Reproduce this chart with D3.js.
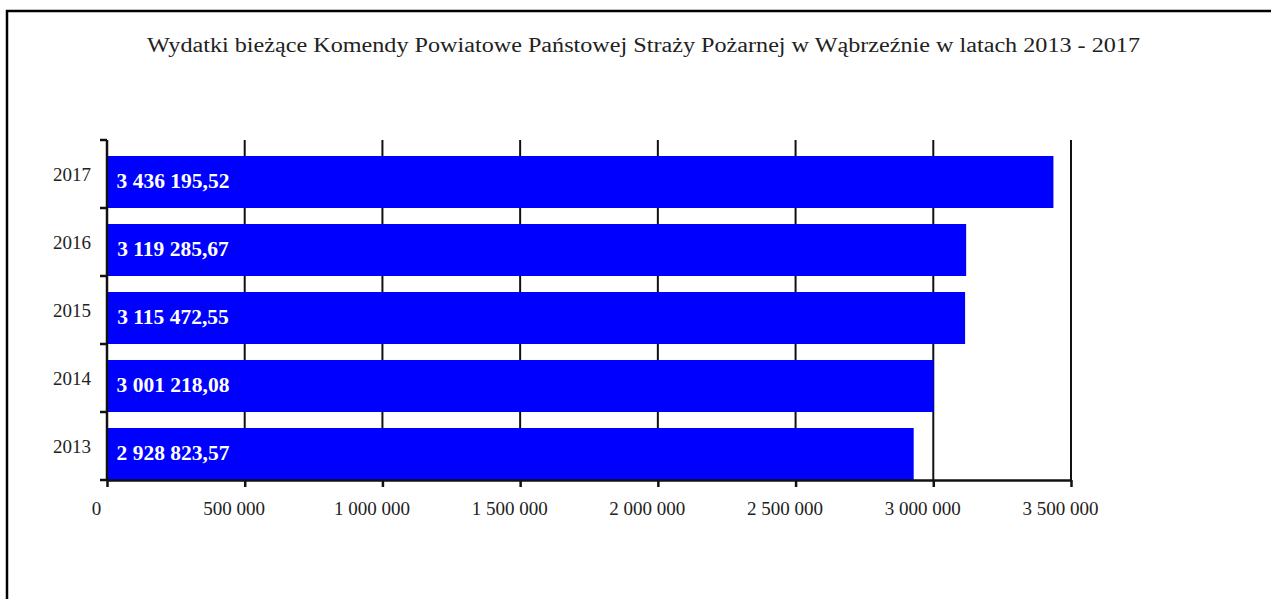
<!DOCTYPE html>
<html><head><meta charset="utf-8">
<script src="https://cdn.jsdelivr.net/npm/d3@7"></script>
<style>body{margin:0;background:#fff}svg{display:block}</style>
</head><body>
<svg id="c" width="1271" height="599"></svg>
<script>
const title = "Wydatki bieżące Komendy Powiatowe Państowej Straży Pożarnej w Wąbrzeźnie w latach 2013 - 2017";
const years = ["2017","2016","2015","2014","2013"];
const values = [3436195.52, 3119285.67, 3115472.55, 3001218.08, 2928823.57];
const valueLabels = ["3 436 195,52","3 119 285,67","3 115 472,55","3 001 218,08","2 928 823,57"];
const xTicks = [0,500000,1000000,1500000,2000000,2500000,3000000,3500000];
const xTickLabels = ["0","500 000","1 000 000","1 500 000","2 000 000","2 500 000","3 000 000","3 500 000"];

const svg = d3.select("#c");
const font = "'Liberation Serif','Times New Roman',serif";
svg.append("rect").attr("x",7).attr("y",11).attr("width",1300).attr("height",640)
  .attr("fill","#fff").attr("stroke","#000").attr("stroke-width",2.5);

svg.append("text").attr("x",643.5).attr("y",52).attr("text-anchor","middle")
  .attr("font-family",font).attr("font-size",20).attr("fill","#222")
  .attr("textLength",993).attr("lengthAdjust","spacingAndGlyphs").text(title);

const x = d3.scaleLinear().domain([0,3500000]).range([107,1071]);
const y = d3.scaleBand().domain(years).range([140,480]).paddingInner(16/68).paddingOuter(8/68).align(1);

// gridlines
svg.append("g").selectAll("line").data(xTicks.slice(1)).join("line")
  .attr("x1",d=>x(d)).attr("x2",d=>x(d)).attr("y1",140).attr("y2",480)
  .attr("stroke","#111").attr("stroke-width",2);

// bars
svg.append("g").selectAll("rect").data(values).join("rect")
  .attr("x",x(0)).attr("y",(d,i)=>y(years[i])).attr("width",d=>x(d)-x(0))
  .attr("height",y.bandwidth()).attr("fill","#0000ff");

// bottom axis
const xAxis = d3.axisBottom(x).tickValues(xTicks).tickFormat((d,i)=>xTickLabels[i]).tickSize(7).tickSizeOuter(0).tickPadding(18);
const gx = svg.append("g").attr("transform","translate(0,480)").call(xAxis);
gx.select(".domain").attr("stroke","#111").attr("stroke-width",2.5);
gx.selectAll(".tick line").attr("stroke","#111").attr("stroke-width",2.5);
gx.selectAll(".tick text").attr("font-family",font).attr("font-size",19).attr("fill","#222")
  .attr("dx",-11).attr("dy","0.55em");

// left axis
const bounds = [140].concat(years.map(c=>y(c)+y.bandwidth()));
svg.append("line").attr("x1",x(0)).attr("x2",x(0)).attr("y1",140).attr("y2",480)
  .attr("stroke","#111").attr("stroke-width",2.5);
svg.append("g").selectAll("line").data(bounds).join("line")
  .attr("x1",x(0)-7).attr("x2",x(0)).attr("y1",d=>d).attr("y2",d=>d)
  .attr("stroke","#111").attr("stroke-width",2.5);
svg.append("g").selectAll("text").data(years).join("text")
  .attr("x",91).attr("y",c=>y(c)+y.bandwidth()-y.step()/2).attr("dy","0.35em")
  .attr("text-anchor","end").attr("font-family",font).attr("font-size",19).attr("fill","#222").text(c=>c);

// value labels
svg.append("g").selectAll("text").data(valueLabels).join("text")
  .attr("x",x(0)+66).attr("y",(d,i)=>y(years[i])+y.bandwidth()/2).attr("dy","0.3em")
  .attr("text-anchor","middle").attr("font-family",font).attr("font-weight","bold")
  .attr("font-size",21.5).attr("fill","#fff").text(d=>d);
</script>
</body></html>
